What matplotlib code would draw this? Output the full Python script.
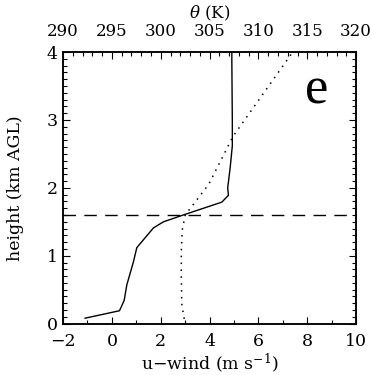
import matplotlib
matplotlib.use("Agg")
import matplotlib.pyplot as plt
from matplotlib.ticker import MultipleLocator

# u-wind profile (solid line, bottom axis)
u_wind = [-1.10, 0.31, 0.50, 0.61, 0.88, 1.02, 1.70, 2.11, 3.00, 4.50, 4.77, 4.74, 4.84, 4.93, 4.93, 4.91, 4.91]
u_height = [0.08, 0.19, 0.34, 0.57, 0.91, 1.12, 1.41, 1.50, 1.61, 1.79, 1.89, 2.00, 2.29, 2.62, 2.95, 3.87, 4.00]

# potential temperature profile (dotted line, top axis)
theta = [302.4, 302.15, 302.1, 302.1, 302.2, 302.5, 304.9, 307.4, 313.5]
theta_height = [0.07, 0.29, 0.70, 1.05, 1.38, 1.60, 2.05, 2.76, 4.00]

pbl_height = 1.6
panel_label = "e"

plt.rcParams['font.family'] = ['DejaVu Serif']
plt.rcParams['mathtext.fontset'] = 'dejavuserif'

fig = plt.figure(figsize=(3.71, 3.75), dpi=100)
ax = fig.add_axes([0.170, 0.137, 0.790, 0.724])

ax.plot(u_wind, u_height, color='black', lw=1.0)
ax.axhline(pbl_height, color='black', lw=1.0, dashes=(9, 6))

ax.set_xlim(-2, 10)
ax.set_ylim(0, 4)
ax.xaxis.set_major_locator(MultipleLocator(2))
ax.xaxis.set_minor_locator(MultipleLocator(1))
ax.yaxis.set_major_locator(MultipleLocator(1))
ax.yaxis.set_minor_locator(MultipleLocator(0.1))
ax.tick_params(which='both', direction='in', right=True, labelsize=12.5)
ax.tick_params(axis='x', pad=7)
ax.tick_params(axis='y', pad=4)
ax.tick_params(which='major', length=5, width=0.8)
ax.tick_params(which='minor', length=3, width=0.8)
ax.set_xlabel('u\u2212wind (m s$^{-1}$)', fontsize=12.5, labelpad=1)
ax.set_ylabel('height (km AGL)', fontsize=12.5, labelpad=16)

ax2 = ax.twiny()
ax2.plot(theta, theta_height, color='black', lw=1.1, dashes=(1, 3.5))
ax2.set_xlim(290, 320)
ax2.xaxis.set_major_locator(MultipleLocator(5))
ax2.xaxis.set_minor_locator(MultipleLocator(1))
ax2.tick_params(which='both', direction='in', labelsize=12, pad=9)
ax2.tick_params(which='major', length=5, width=0.8)
ax2.tick_params(which='minor', length=3, width=0.8)
ax2.set_xlabel(r'$\theta$ (K)', fontsize=12, labelpad=3)

for a in (ax, ax2):
    for s in a.spines.values():
        s.set_linewidth(1.1)

ax.text(0.867, 0.86, panel_label, transform=ax.transAxes, fontsize=38,
        family='Liberation Serif', ha='center', va='center')

fig.savefig('out.png', dpi=100)
